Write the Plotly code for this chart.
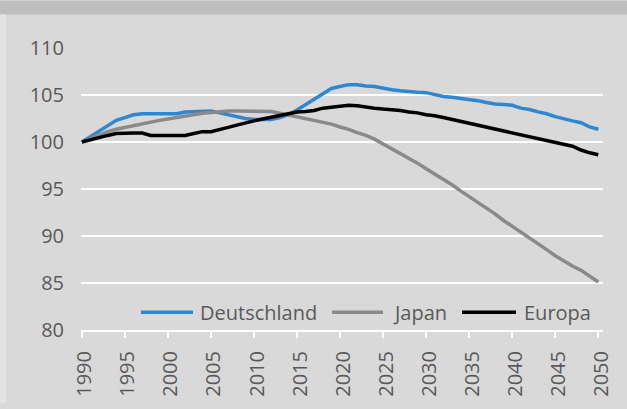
import plotly.graph_objects as go

# Bevölkerungsentwicklung, Index 1990 = 100
YEARS = list(range(1990, 2051))

DEUTSCHLAND = [
    100.0, 100.6, 101.2, 101.8, 102.3, 102.6, 102.9, 103.0, 103.0, 103.0,
    103.0, 103.0, 103.2, 103.25, 103.3, 103.3, 103.1, 102.9, 102.7, 102.5,
    102.4, 102.4, 102.4, 102.6, 102.9, 103.4, 104.0, 104.6, 105.1, 105.7,
    105.9, 106.1, 106.1, 105.95, 105.9, 105.7, 105.55, 105.45, 105.35, 105.3,
    105.25, 105.05, 104.85, 104.75, 104.65, 104.55, 104.4, 104.2, 104.05, 104.0,
    103.9, 103.6, 103.45, 103.2, 103.0, 102.7, 102.45, 102.25, 102.05, 101.6,
    101.35,
]
JAPAN = [
    100.0, 100.4, 100.8, 101.1, 101.35, 101.55, 101.75, 101.95, 102.1, 102.3,
    102.45, 102.6, 102.8, 102.9, 103.05, 103.15, 103.25, 103.3, 103.3, 103.3,
    103.3, 103.3, 103.25, 103.05, 102.85, 102.65, 102.45, 102.3, 102.1, 101.9,
    101.6, 101.35, 101.0, 100.7, 100.3, 99.8, 99.2, 98.75, 98.25, 97.75,
    97.15, 96.6, 96.1, 95.45, 94.8, 94.2, 93.55, 93.0, 92.35, 91.65,
    91.05, 90.45, 89.8, 89.2, 88.55, 87.9, 87.3, 86.8, 86.35, 85.7,
    85.1,
]
EUROPA = [
    100.0, 100.25, 100.5, 100.7, 100.9, 100.95, 100.95, 100.95, 100.7, 100.7,
    100.7, 100.7, 100.7, 100.9, 101.1, 101.1, 101.3, 101.55, 101.8, 102.05,
    102.25, 102.45, 102.65, 102.85, 103.05, 103.2, 103.25, 103.35, 103.6, 103.7,
    103.85, 103.9, 103.85, 103.7, 103.6, 103.5, 103.45, 103.35, 103.2, 103.1,
    102.9, 102.8, 102.6, 102.4, 102.15, 101.95, 101.75, 101.55, 101.35, 101.15,
    100.95, 100.75, 100.55, 100.35, 100.15, 99.95, 99.75, 99.55, 99.15, 98.85,
    98.65,
]

NAMES = ["Deutschland", "Japan", "Europa"]
SERIES = [DEUTSCHLAND, JAPAN, EUROPA]
COLORS = ["#2e87d1", "#8a8a8a", "#000000"]

BG = "#d9d9d9"
HEADER = "#bfbfbf"
TICK = "#595959"
FONT = "Open Sans"

W, H = 627, 409
ML, MR, MT, MB = 81, 24, 48, 74
PW, PH = W - ML - MR, H - MT - MB

fig = go.Figure()
for name, vals, col in zip(NAMES, SERIES, COLORS):
    fig.add_trace(go.Scatter(
        x=YEARS, y=vals, mode="lines", name=name,
        line=dict(color=col, width=3.5),
        hovertemplate="%{x}: %{y:.1f}<extra>" + name + "</extra>",
    ))


def px_x(p):
    return (p - ML) / PW


def px_y(p):
    return (H - MB - p) / PH


shapes = [
    # graue Kopfleiste
    dict(type="rect", xref="paper", yref="paper", layer="below",
         x0=px_x(0), x1=px_x(W), y0=px_y(14), y1=px_y(0),
         fillcolor=HEADER, line_width=0),
    # heller Streifen am linken Rand
    dict(type="rect", xref="paper", yref="paper", layer="below",
         x0=px_x(0), x1=px_x(6), y0=px_y(H), y1=px_y(14),
         fillcolor="#e3e3e3", line_width=0),
]

# Legende von Hand, damit die Linienstücke so lang wie im Original sind
legend_line = [(141, 193), (332, 383), (462, 516)]
legend_text = [198, 391, 522]
ly = px_y(317)
annotations = []
for name, col, (a, b), tx in zip(NAMES, COLORS, legend_line, legend_text):
    shapes.append(dict(type="line", xref="paper", yref="paper",
                       x0=px_x(a), x1=px_x(b), y0=ly, y1=ly,
                       line=dict(color=col, width=3.5)))
    annotations.append(dict(xref="paper", yref="paper", x=px_x(tx), y=ly,
                            text=name, showarrow=False, xanchor="left",
                            yanchor="middle",
                            font=dict(family=FONT, size=20, color=TICK)))

fig.update_layout(
    width=W, height=H,
    margin=dict(l=ML, r=MR, t=MT, b=MB),
    paper_bgcolor=BG, plot_bgcolor=BG,
    font=dict(family=FONT, size=20, color=TICK),
    showlegend=False,
    shapes=shapes, annotations=annotations,
)
fig.update_xaxes(
    range=[1989.9, 2050.55], tickmode="array",
    tickvals=list(range(1990, 2051, 5)), tickangle=-90,
    showgrid=False, zeroline=False,
    showline=True, linecolor="white", linewidth=2,
    ticks="outside", ticklen=6, tickwidth=2, tickcolor="white",
    ticklabelstandoff=5, ticklabelshift=3,
    tickfont=dict(family=FONT, size=20, color=TICK),
)
fig.update_yaxes(
    range=[80, 110], tickmode="array", tickvals=list(range(80, 111, 5)),
    showgrid=True, gridcolor="white", gridwidth=2,
    zeroline=False, showline=False, ticks="", ticklabelstandoff=16,
    tickfont=dict(family=FONT, size=20, color=TICK),
)

# Standardrand des Browsers entfernen, damit die Grafik bündig oben links sitzt
fig.write_html("out.html", config={"displayModeBar": False},
               post_script="document.body.style.margin='0';")
